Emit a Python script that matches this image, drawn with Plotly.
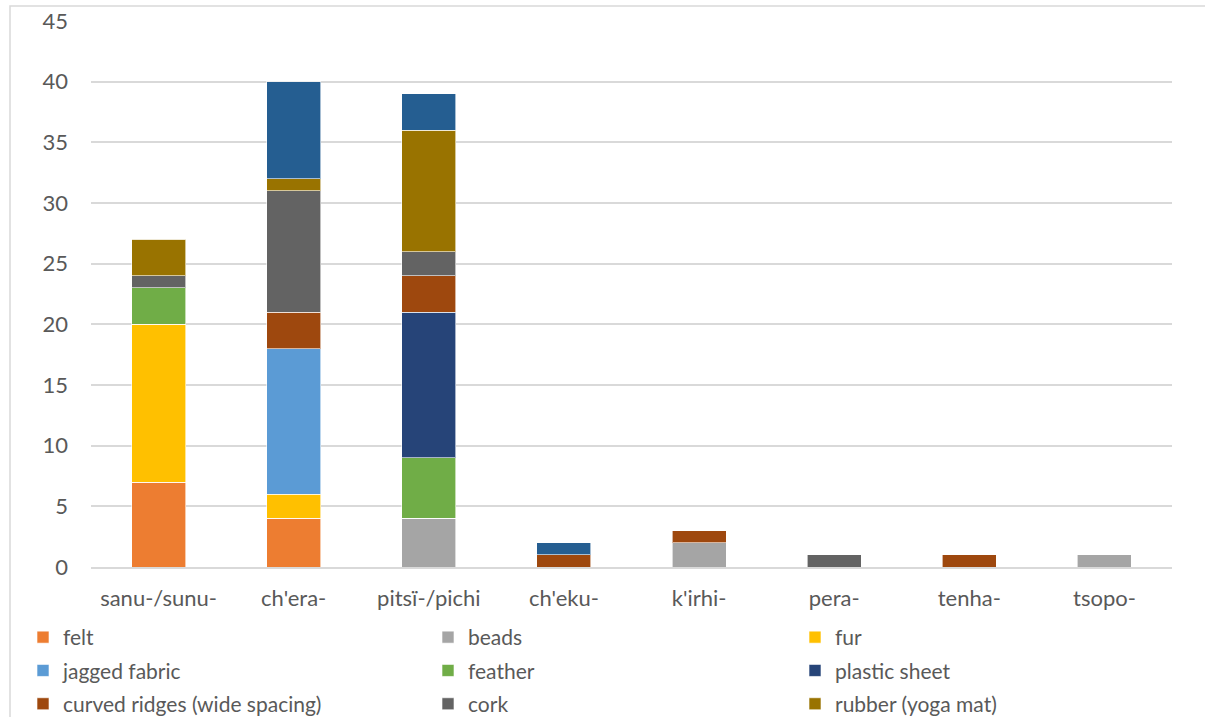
import plotly.graph_objects as go

# Word stems on the x axis
categories = ["sanu-/sunu-", "ch'era-", "pitsï-/pichi", "ch'eku-", "k'irhi-", "pera-", "tenha-", "tsopo-"]

# Counts per texture, stacked in this order
felt = [7, 4, 0, 0, 0, 0, 0, 0]
beads = [0, 0, 4, 0, 2, 0, 0, 1]
fur = [13, 2, 0, 0, 0, 0, 0, 0]
jagged_fabric = [0, 12, 0, 0, 0, 0, 0, 0]
feather = [3, 0, 5, 0, 0, 0, 0, 0]
plastic_sheet = [0, 0, 12, 0, 0, 0, 0, 0]
curved_ridges_wide = [0, 3, 3, 1, 1, 0, 1, 0]
cork = [1, 10, 2, 0, 0, 1, 0, 0]
rubber = [3, 1, 10, 0, 0, 0, 0, 0]
curved_ridges_narrow = [0, 8, 3, 1, 0, 0, 0, 0]

y_ticks = [0, 5, 10, 15, 20, 25, 30, 35, 40, 45]

series = [
    ("felt", felt, "#ED7D31", "legend"),
    ("beads", beads, "#A5A5A5", "legend2"),
    ("fur", fur, "#FFC000", "legend3"),
    ("jagged fabric", jagged_fabric, "#5B9BD5", "legend"),
    ("feather", feather, "#70AD47", "legend2"),
    ("plastic sheet", plastic_sheet, "#264478", "legend3"),
    ("curved ridges (wide spacing)", curved_ridges_wide, "#9E480E", "legend"),
    ("cork", cork, "#636363", "legend2"),
    ("rubber (yoga mat)", rubber, "#997300", "legend3"),
    ("curved ridges (narrow spacing)", curved_ridges_narrow, "#255E91", None),
]

FONT = "Lato"
TXT = "#595959"

fig = go.Figure()
for i, (name, vals, color, leg) in enumerate(series):
    fig.add_trace(go.Bar(
        x=categories, y=vals, name=name,
        marker=dict(color=color, line=dict(color="rgba(255,255,255,0.6)", width=1)),
        legend=leg if leg else "legend",
        legendgroup=f"g{i}",
        showlegend=leg is not None,
    ))

W, H = 1205, 717
L, R, T, B = 91, 33, 21, 150
pw, ph = W - L - R, H - T - B

def px_x(x):
    return (x - L) / pw

def px_y(y):
    return (H - B - y) / ph

legend_common = dict(
    orientation="v", xref="paper", yref="paper", xanchor="left", yanchor="top",
    font=dict(family=FONT, size=21, color=TXT), bgcolor="rgba(0,0,0,0)",
    tracegroupgap=3, itemclick=False, itemdoubleclick=False,
)

fig.update_layout(
    width=W, height=H,
    margin=dict(l=L, r=R, t=T, b=B, autoexpand=False),
    paper_bgcolor="white", plot_bgcolor="white",
    barmode="stack", bargap=0.6,
    font=dict(family=FONT, color=TXT),
    legend=dict(legend_common, x=px_x(23), y=px_y(617)),
    legend2=dict(legend_common, x=px_x(428), y=px_y(617)),
    legend3=dict(legend_common, x=px_x(795), y=px_y(617)),
    xaxis=dict(
        showgrid=False, showline=True, linecolor="#D9D9D9", linewidth=2,
        ticks="", tickfont=dict(family=FONT, size=22, color=TXT),
        ticklabelstandoff=11,
    ),
    yaxis=dict(
        range=[0, 45], tickvals=y_ticks, showgrid=True, gridcolor="#D9D9D9", gridwidth=2,
        zeroline=False, showline=False, ticks="",
        tickfont=dict(family=FONT, size=22, color=TXT), ticklabelstandoff=22,
    ),
    shapes=[dict(
        type="rect", xref="paper", yref="paper",
        x0=px_x(10), x1=px_x(1240), y0=px_y(740), y1=px_y(6),
        line=dict(color="#D9D9D9", width=1.5), fillcolor="rgba(0,0,0,0)", layer="below",
    )],
)

fig.write_html("out.html")
